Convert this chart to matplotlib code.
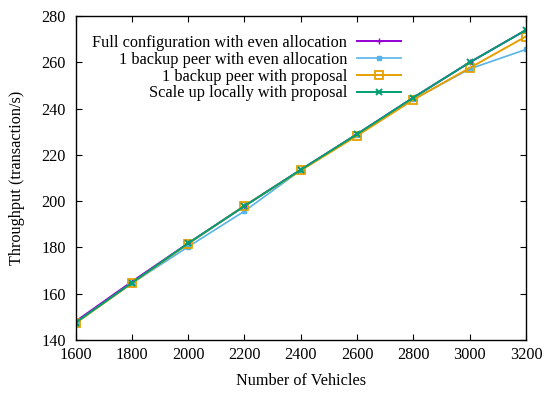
import matplotlib
matplotlib.use("Agg")
import matplotlib.pyplot as plt

plt.rcParams['font.family'] = ['Liberation Serif', 'DejaVu Serif']
plt.rcParams['font.size'] = 11.7

vehicles = [1600, 1800, 2000, 2200, 2400, 2600, 2800, 3000, 3200]
full_even = [148.0, 165.2, 181.8, 197.9, 213.6, 229.0, 244.8, 260.0, 274.0]
backup_even = [147.3, 164.5, 180.3, 195.7, 213.4, 228.6, 244.0, 257.2, 265.6]
backup_prop = [147.3, 164.5, 181.6, 198.0, 213.3, 228.3, 243.9, 257.6, 271.2]
scale_prop = [147.5, 164.7, 181.8, 197.9, 213.6, 229.0, 244.8, 260.0, 274.0]

labels = ["Full configuration with even allocation",
          "1 backup peer with even allocation",
          "1 backup peer with proposal",
          "Scale up locally with proposal"]
colors = ["#9400d3", "#56b4e9", "#e69f00", "#009e73"]

fig = plt.figure(figsize=(5.5, 3.94), dpi=100)
ax = fig.add_axes([0.1373, 0.137, 0.819, 0.822])

ax.plot(vehicles, full_even, color=colors[0], marker='+', ms=5, lw=1.4, label=labels[0])
ax.plot(vehicles, backup_even, color=colors[1], marker='s', ms=3.5, lw=1.2, label=labels[1])
ax.plot(vehicles, backup_prop, color=colors[2], marker='s', ms=5.5, mfc='none', mew=1.3, lw=1.4, label=labels[2])
ax.plot(vehicles, scale_prop, color=colors[3], marker='x', ms=5, mew=1.4, lw=1.4, label=labels[3])

ax.set_xlim(1600, 3200)
ax.set_ylim(140, 280)
ax.set_xticks(range(1600, 3201, 200))
ax.set_yticks(range(140, 281, 20))
ax.tick_params(direction='in', top=True, right=True, length=4, width=0.8)
ax.tick_params(axis='x', pad=5)
ax.tick_params(axis='y', pad=7)
for s in ax.spines.values():
    s.set_linewidth(1.0)

ax.set_xlabel("Number of Vehicles", labelpad=7)
ax.set_ylabel("Throughput (transaction/s)", labelpad=12)

leg = ax.legend(loc='upper right', bbox_to_anchor=(0.7225, 0.942), frameon=False,
                markerfirst=False, handlelength=2.7, handletextpad=0.6,
                labelspacing=0.05, borderpad=0, borderaxespad=0)

fig.savefig("out.png", dpi=100)
